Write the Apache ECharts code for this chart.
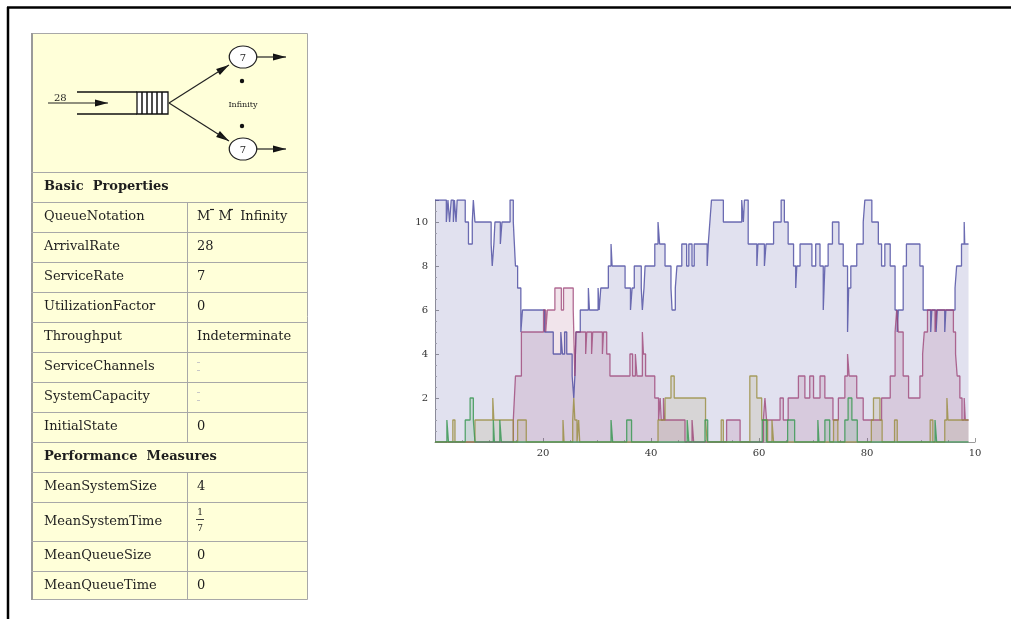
<!DOCTYPE html>
<html>
<head>
<meta charset="utf-8">
<script src="https://cdn.jsdelivr.net/npm/echarts/dist/echarts.min.js"></script>
<style>html,body{margin:0;padding:0;background:#fff}#main{width:1011px;height:619px}</style>
</head>
<body>
<div id="main"></div>
<script>
// step data: [time, count]
var blueSteps = [[0,11],[2.1,10],[2.4,11],[2.7,10],[3.0,11],[3.4,10],[3.6,11],[3.9,10],[4.1,11],[5.6,10],[6.2,9],[6.9,10],[7.1,11],[7.4,10],
  [10.4,9],[10.6,8],[10.9,9],[11.1,10],[12.1,9],[12.4,10],[13.9,11],[14.5,10],[14.7,9],[14.9,8],[15.3,7],[15.9,5],[16.2,6],[20.3,5],[21.9,4],
  [23.3,5],[23.6,4],[24.0,5],[24.4,4],[25.4,3],[25.7,2],[25.9,3],[26.1,5],[26.9,6],[28.4,7],[28.6,6],[30.2,7],[30.4,6],[30.7,7],[32.1,8],[32.6,9],
  [32.8,8],[35.2,7],[36.2,6],[36.5,7],[36.9,8],[38.2,7],[38.4,6],[38.7,7],[38.9,8],[40.7,9],[41.3,10],[41.6,9],[42.6,8],[43.7,7],[43.9,6],[44.5,7],
  [44.8,8],[45.7,9],[46.6,8],[47.0,9],[47.6,8],[48.0,9],[50.4,8],[50.6,9],[50.9,10],[51.2,11],[53.4,10],[56.8,11],[57.1,10],[57.3,11],[58.0,9],
  [59.6,8],[59.8,9],[61.0,8],[61.3,9],[62.7,10],[64.1,11],[64.7,10],[65.4,9],[66.4,8],[66.8,7],[67.0,8],[67.6,9],[69.8,8],[70.5,9],[71.3,8],
  [71.9,6],[72.2,8],[72.8,9],[73.6,10],[74.8,9],[75.6,8],[76.4,5],[76.6,7],[77.0,8],[78.1,9],[79.3,10],[79.6,11],[80.9,10],[82.1,9],[82.7,8],
  [83.3,9],[84.3,8],[85.2,6],[85.6,5],[85.8,6],[86.7,8],[87.3,9],[89.8,8],[90.4,6],[91.8,5],[92.0,6],[92.8,5],[93.0,6],[94.4,5],[94.6,6],
  [96.3,7],[96.6,8],[97.5,9],[98.0,10],[98.1,9],[98.8,9]];
var redSteps = [[0,0],[14.5,1],[14.7,2],[14.9,3],[16.0,5],[20.1,6],[20.5,5],[20.8,6],[22.2,7],[23.4,6],[23.8,7],[25.6,6],[25.9,3],[26.1,5],
  [27.9,4],[28.1,5],[29.0,4],[29.2,5],[31.0,4],[31.2,5],[31.8,4],[32.4,3],[36.1,4],[36.6,3],[37.1,4],[37.4,3],[38.4,5],[38.6,4],[39.0,3],
  [40.7,2],[41.4,1],[41.7,2],[41.9,1],[42.3,2],[42.5,1],[46.3,0],[47.6,1],[47.9,0],[54.0,1],[56.5,0],[60.8,1],[61.1,2],[61.4,1],[63.9,2],
  [64.5,1],[65.4,2],[67.3,3],[68.5,2],[69.4,3],[70.1,2],[71.3,3],[72.2,2],[73.7,1],[74.7,2],[75.9,3],[76.4,4],[76.7,3],[78.1,2],[79.3,1],
  [82.7,2],[84.3,3],[85.2,5],[85.5,6],[85.8,5],[86.7,3],[87.7,2],[89.8,3],[90.3,4],[90.6,5],[91.2,6],[92.6,5],[92.9,6],[96.0,5],[96.4,4],
  [96.7,3],[97.2,2],[97.6,1],[98.0,2],[98.2,1],[98.8,1]];
var oliveSteps = [[0,0],[3.3,1],[3.7,0],[7.4,1],[10.7,2],[10.9,1],[14.5,0],[15.3,1],[16.9,0],[23.7,1],[23.9,0],[25.5,1],[25.7,2],[25.9,1],
  [26.3,0],[26.6,1],[26.8,0],[41.3,1],[42.6,2],[43.7,3],[44.3,2],[50.1,1],[50.4,0],[53.0,1],[53.4,0],[58.3,3],[59.6,2],[60.5,1],[61.6,0],
  [62.4,1],[62.7,0],[73.8,1],[74.6,0],[80.8,1],[81.2,2],[82.4,1],[82.8,0],[85.1,1],[85.6,0],[91.7,1],[92.2,0],[94.4,1],[94.8,2],[95.0,1],[98.8,1]];
var greenSteps = [[0,0],[2.2,1],[2.5,0],[5.6,1],[6.5,2],[7.1,1],[7.4,0],[10.8,1],[11.0,0],[12.0,1],[12.3,0],[32.6,1],[32.9,0],[35.5,1],
  [36.4,0],[46.7,1],[47.0,0],[50.0,1],[50.5,0],[60.6,1],[61.4,0],[65.3,1],[66.6,0],[70.9,1],[71.1,0],[72.2,1],[73.1,0],[75.9,1],[76.5,2],
  [77.2,1],[78.2,0],[92.6,1],[92.9,0],[98.8,0]];

// property table
var basicLabels = ['QueueNotation','ArrivalRate','ServiceRate','UtilizationFactor','Throughput','ServiceChannels','SystemCapacity','InitialState'];
var basicValues = ['M  M  Infinity','28','7','0','Indeterminate','','','0'];
var perfLabels = ['MeanSystemSize','MeanSystemTime','MeanQueueSize','MeanQueueTime'];
var perfValues = ['4','','0','0'];

var serif = 'DejaVu Serif';
var gridCol = '#a8a8a8';
var g = [];

function L(x1,y1,x2,y2,c,w){
  g.push({type:'line',silent:true,z:10,shape:{x1:x1,y1:y1,x2:x2,y2:y2},style:{stroke:c||'#000',lineWidth:w||1}});
}
function T(s,x,y,size,opt){
  opt = opt || {};
  g.push({type:'text',silent:true,x:x,y:y,style:{text:s,font:(opt.bold?'bold ':'')+size+'px "'+serif+'"',
    fill:opt.fill||'#1e1e1e',textAlign:opt.align||'left',textVerticalAlign:'middle'}});
}
function arrowHead(x1,y1,x2,y2,len,wid){
  var dx=x2-x1, dy=y2-y1, d=Math.sqrt(dx*dx+dy*dy); dx/=d; dy/=d;
  var bx=x2-dx*len, by=y2-dy*len;
  g.push({type:'polygon',silent:true,shape:{points:[[x2,y2],[bx-dy*wid,by+dx*wid],[bx+dy*wid,by-dx*wid]]},style:{fill:'#111'}});
}
function arrow(x1,y1,x2,y2){
  L(x1,y1,x2,y2,'#222',1.2);
  arrowHead(x1,y1,x2,y2,13,3.5);
}

// outer frame
L(7,7.5,1011,7.5,'#000',2.5);
L(8,7,8,619,'#000',2.5);

// table box
g.push({type:'rect',silent:true,shape:{x:31.5,y:33.5,width:276,height:566},style:{fill:'#ffffd9',stroke:gridCol,lineWidth:1}});
L(32,33,32,600,'#9a9a9a',2);

// queue diagram
L(77,92,137,92,'#111',1.3);
L(77,114,137,114,'#111',1.3);
g.push({type:'rect',silent:true,shape:{x:137,y:92,width:31,height:22},style:{fill:'#fff',stroke:'#111',lineWidth:1.3}});
for (var k=1;k<6;k++) L(137+k*5,92,137+k*5,114,'#111',1.5);
arrow(48,103,108,103);
T('28',54,98,10);
arrow(169,103,229,65);
arrow(169,103,229,141);
[57,149].forEach(function(cy){
  g.push({type:'circle',silent:true,x:243,y:cy,scaleX:1.25,shape:{cx:0,cy:0,r:11},style:{fill:'#fff',stroke:'#222',lineWidth:1}});
  T('7',243,cy+1,10,{align:'center'});
  arrow(257,cy,286,cy);
});
g.push({type:'circle',silent:true,shape:{cx:242,cy:81,r:2.2},style:{fill:'#111'}});
g.push({type:'circle',silent:true,shape:{cx:242,cy:126,r:2.2},style:{fill:'#111'}});
T('Infinity',243,105,8,{align:'center'});

// table rows
var fs = 13;
var y0 = 172;
L(31,y0+0.5,308,y0+0.5,gridCol);
T('Basic  Properties',44,y0+15,fs,{bold:true});
var y = y0+30;
L(31,y+0.5,308,y+0.5,gridCol);
for (var i=0;i<basicLabels.length;i++){
  T(basicLabels[i],44,y+15,fs);
  if (basicValues[i]) T(basicValues[i],197,y+15,fs);
  y += 30;
  L(31,y+0.5,308,y+0.5,gridCol);
}
L(187.5,y0+30,187.5,y,gridCol);
// dashes over the notation, faint marks for empty cells
L(210,y0+37.5,214,y0+37.5,'#222',1.2);
L(229,y0+37.5,233,y0+37.5,'#222',1.2);
[5,6].forEach(function(r){
  var ry = y0+30+r*30;
  L(197,ry+10.5,200,ry+10.5,'#c8c8c8',1);
  L(197,ry+18.5,200,ry+18.5,'#c8c8c8',1);
});
T('Performance  Measures',44,y+15,fs,{bold:true});
var yp = y+30;
L(31,yp+0.5,308,yp+0.5,gridCol);
var perfH = [30,39,30,29];
for (var j=0;j<perfLabels.length;j++){
  T(perfLabels[j],44,yp+perfH[j]/2,fs);
  if (perfValues[j]) T(perfValues[j],197,yp+perfH[j]/2,fs);
  if (j===1){
    T('1',200,yp+11,9,{align:'center'});
    L(196,yp+17.5,204,yp+17.5,'#444',1);
    T('7',200,yp+27,9,{align:'center'});
  }
  yp += perfH[j];
  if (j<perfLabels.length-1) L(31,yp+0.5,308,yp+0.5,gridCol);
}
L(187.5,y+30,187.5,yp,gridCol);

function stepSeries(data,line,fill){
  return {type:'line',step:'end',data:data,showSymbol:false,silent:true,animation:false,
    lineStyle:{color:line,width:1.3},areaStyle:{color:fill}};
}

var chart = echarts.init(document.getElementById('main'));
chart.setOption({
  animation:false,
  grid:{left:435,right:36,top:200,bottom:177},
  xAxis:{type:'value',min:0,max:100,interval:20,
    axisLine:{lineStyle:{color:'#9a9a9a'}},
    axisTick:{inside:true,length:4,lineStyle:{color:'#9a9a9a'}},
    minorTick:{show:true,splitNumber:4,length:2,lineStyle:{color:'#b0b0b0'}},
    splitLine:{show:false},
    axisLabel:{margin:6,color:'#333',fontFamily:serif,fontSize:10,
      formatter:function(v){return v===0?'':(v===100?'10':String(v));}}},
  yAxis:{type:'value',min:0,max:11,interval:2,
    axisLine:{show:true,lineStyle:{color:'#9a9a9a'}},
    axisTick:{show:true,inside:true,length:4,lineStyle:{color:'#9a9a9a'}},
    minorTick:{show:true,splitNumber:4,length:2,lineStyle:{color:'#b0b0b0'}},
    splitLine:{show:false},
    axisLabel:{margin:7,color:'#333',fontFamily:serif,fontSize:10,showMaxLabel:false,
      formatter:function(v){return (v===0||v%2)?'':String(v);}}},
  series:[
    stepSeries(blueSteps,'rgba(62,61,153,0.75)','rgba(62,61,153,0.22)'),
    stepSeries(redSteps,'rgba(153,61,113,0.75)','rgba(153,61,113,0.2)'),
    stepSeries(oliveSteps,'rgba(153,140,61,0.8)','rgba(153,140,61,0.2)'),
    stepSeries(greenSteps,'rgba(61,153,86,0.85)','rgba(61,153,86,0.2)')
  ],
  graphic:g
});
</script>
</body>
</html>
